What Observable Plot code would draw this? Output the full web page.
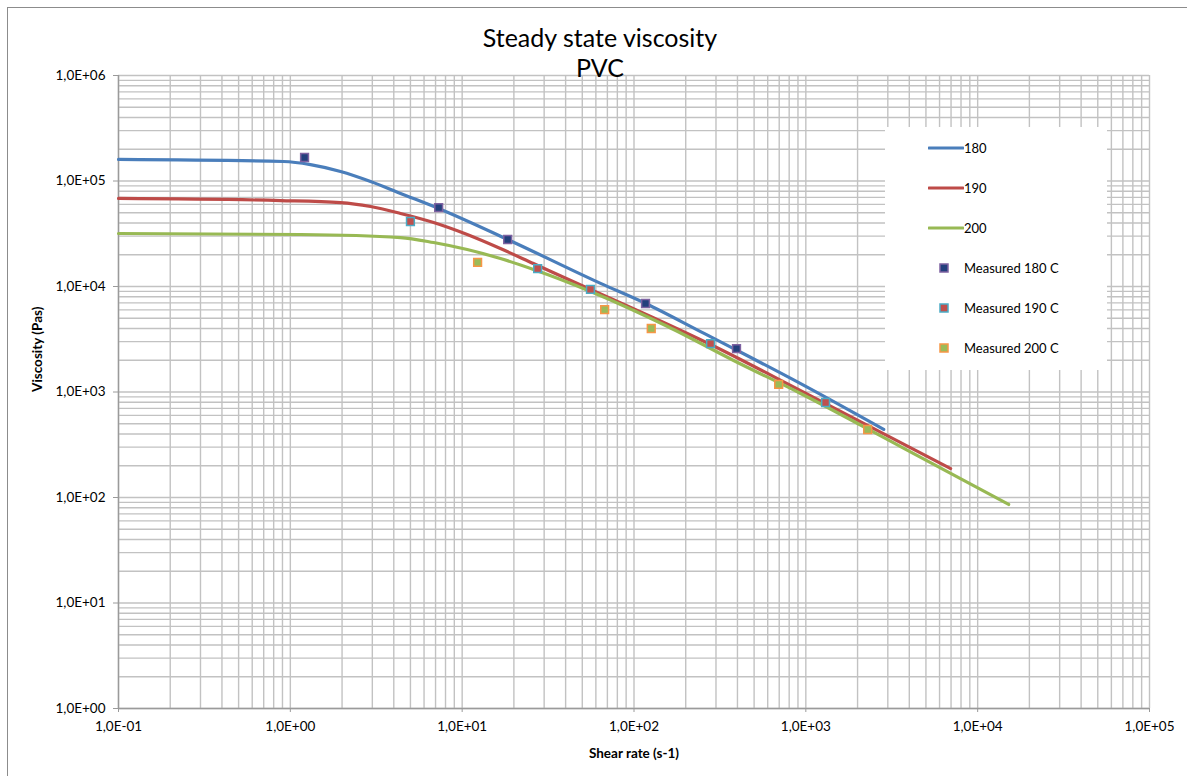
<!DOCTYPE html>
<html>
<head>
<meta charset="utf-8">
<script src="https://cdn.jsdelivr.net/npm/d3@7"></script>
<script src="https://cdn.jsdelivr.net/npm/@observablehq/plot@0.6"></script>
<style>
  html, body { margin: 0; padding: 0; background: #fff; overflow: hidden; }
  #chart { position: relative; width: 1187px; height: 776px; overflow: hidden; font-family: Lato, "Open Sans", sans-serif; }
  #frame { position: absolute; left: 7px; top: 7px; width: 1200px; height: 800px; border: 1.5px solid #8c8c8c; box-sizing: border-box; pointer-events: none; }
  .title { position: absolute; left: 7px; width: 1186px; text-align: center; font-size: 25px; line-height: 30px; height: 30px; color: #000; }
  #legend { position: absolute; left: 885px; top: 127px; width: 222px; height: 243px; background: #fff; }
  .lg { position: absolute; font-size: 13px; color: #000; transform: translateY(-50%); white-space: nowrap; }
  .sw { position: absolute; }
  #plot { position: absolute; left: 0; top: 0; }
</style>
</head>
<body>
<div id="chart">
  <div id="plot"></div>
  <div class="title" style="top:22px">Steady state viscosity</div>
  <div class="title" style="top:52px">PVC</div>
  <div id="legend"></div>
  <div id="frame"></div>
</div>
<script>
// Model fits (viscosity vs shear rate) for each temperature
const fit180Rate = [0.1, 0.913, 1.31, 1.96, 2.93, 4.38, 7.29, 18.4, 63.9, 117, 244, 380, 933, 2840];
const fit180Visc = [1.60e5, 1.53e5, 1.43e5, 1.23e5, 9.89e4, 7.62e4, 5.49e4, 2.79e4, 1.07e4, 6.90e3, 3.74e3, 2.58e3, 1.20e3, 442];

const fit190Rate = [0.1, 0.877, 1.96, 2.93, 4.38, 6.82, 10.7, 16.7, 26.0, 55.9, 125, 279, 933, 6960];
const fit190Visc = [6.83e4, 6.53e4, 6.25e4, 5.73e4, 4.92e4, 4.04e4, 3.11e4, 2.29e4, 1.65e4, 9.37e3, 5.20e3, 2.82e3, 1.03e3, 188];

const fit200Rate = [0.1, 1.15, 4.38, 6.82, 10.7, 16.7, 26.0, 55.9, 157, 380, 933, 3560, 15150];
const fit200Visc = [3.18e4, 3.11e4, 2.91e4, 2.61e4, 2.24e4, 1.84e4, 1.45e4, 8.98e3, 4.18e3, 1.99e3, 968, 304, 85.9];

// Measured points
const meas180Rate = [1.21, 7.3, 18.4, 116.7, 395];
const meas180Visc = [1.67e5, 5.6e4, 2.79e4, 6.9e3, 2.58e3];

const meas190Rate = [5.0, 27.5, 55.8, 279, 1303];
const meas190Visc = [4.13e4, 1.48e4, 9.38e3, 2.88e3, 795];

const meas200Rate = [12.3, 67.5, 126, 695, 2290];
const meas200Visc = [1.69e4, 6.05e3, 4.0e3, 1.18e3, 441];

// Axis decades
const xTicks = [1e-1, 1e0, 1e1, 1e2, 1e3, 1e4, 1e5];
const yTicks = [1e0, 1e1, 1e2, 1e3, 1e4, 1e5, 1e6];

const seriesNames = ["180", "190", "200"];
const lineColors = ["#4A7EBB", "#BE4B48", "#98B954"];
const markerNames = ["Measured 180 C", "Measured 190 C", "Measured 200 C"];
const markerFill = ["#233F7C", "#C0504D", "#9BBB59"];
const markerStroke = ["#7E62A1", "#4BACC6", "#F79646"];

const pair = (xs, ys, name) => xs.map((x, i) => ({x, y: ys[i], name}));
const fits = [
  pair(fit180Rate, fit180Visc, "180"),
  pair(fit190Rate, fit190Visc, "190"),
  pair(fit200Rate, fit200Visc, "200")
];
const meas = [
  pair(meas180Rate, meas180Visc, markerNames[0]),
  pair(meas190Rate, meas190Visc, markerNames[1]),
  pair(meas200Rate, meas200Visc, markerNames[2])
];

// Minor grid: 1..9 within each decade
const minor = ticks => ticks.slice(0, -1).flatMap(t => d3.range(1, 10).map(k => k * t)).concat([ticks[ticks.length - 1]]);
const xGrid = minor(xTicks);
const yGrid = minor(yTicks);

const sci = v => {
  const e = Math.round(Math.log10(v));
  return "1,0E" + (e < 0 ? "-" : "+") + String(Math.abs(e)).padStart(2, "0");
};

const gridStroke = "#c2c2c2";

const plot = Plot.plot({
  width: 1187,
  height: 776,
  marginLeft: 118,
  marginRight: 38,
  marginTop: 75,
  marginBottom: 68,
  style: {fontFamily: "Lato, 'Open Sans', sans-serif", fontSize: "13px", color: "#000", background: "transparent"},
  x: {type: "log", domain: [0.1, 1e5]},
  y: {type: "log", domain: [1, 1e6]},
  marks: [
    Plot.ruleX(xGrid, {stroke: gridStroke, strokeWidth: 1.4}),
    Plot.ruleY(yGrid, {stroke: gridStroke, strokeWidth: 1.4}),
    Plot.ruleX([xTicks[0]], {stroke: "#9a9a9a", strokeWidth: 1.4}),
    Plot.ruleY([yTicks[0]], {stroke: "#9a9a9a", strokeWidth: 1.4}),
    Plot.axisX(xTicks, {tickFormat: sci, tickSize: 4, tickPadding: 9, stroke: "#9a9a9a", fill: "#000", fontSize: 13.5, label: null}),
    Plot.axisY(yTicks, {tickFormat: sci, tickSize: 5, tickPadding: 8, stroke: "#9a9a9a", fill: "#000", fontSize: 13.5, label: null}),
    Plot.text(["Shear rate (s-1)"], {frameAnchor: "bottom", dy: 49, fontWeight: "bold", fontSize: 13.5}),
    Plot.text(["Viscosity (Pas)"], {frameAnchor: "left", dx: -81, rotate: -90, fontWeight: "bold", fontSize: 13.5}),
    ...fits.map((d, i) => Plot.line(d, {x: "x", y: "y", stroke: lineColors[i], strokeWidth: 3.2, curve: "monotone-x"})),
    ...meas.map((d, i) => Plot.dot(d, {x: "x", y: "y", symbol: "square", r: 4.4, fill: markerFill[i], stroke: markerStroke[i], strokeWidth: 1.5}))
  ]
});
document.getElementById("plot").appendChild(plot);

// Legend box
const legend = document.getElementById("legend");
const rowY = [21, 61, 101, 141, 181, 221];
seriesNames.forEach((name, i) => {
  legend.insertAdjacentHTML("beforeend",
    `<svg class="sw" style="left:43px;top:${rowY[i] - 3}px" width="36" height="6"><line x1="1" y1="3" x2="35" y2="3" stroke="${lineColors[i]}" stroke-width="3.2" stroke-linecap="round"/></svg>` +
    `<div class="lg" style="left:79px;top:${rowY[i]}px">${name}</div>`);
});
markerNames.forEach((name, i) => {
  const y = rowY[i + 3];
  legend.insertAdjacentHTML("beforeend",
    `<svg class="sw" style="left:53px;top:${y - 6}px" width="12" height="12"><rect x="2" y="2" width="8" height="8" fill="${markerFill[i]}" stroke="${markerStroke[i]}" stroke-width="1.5"/></svg>` +
    `<div class="lg" style="left:79px;top:${y}px">${name}</div>`);
});
</script>
</body>
</html>
